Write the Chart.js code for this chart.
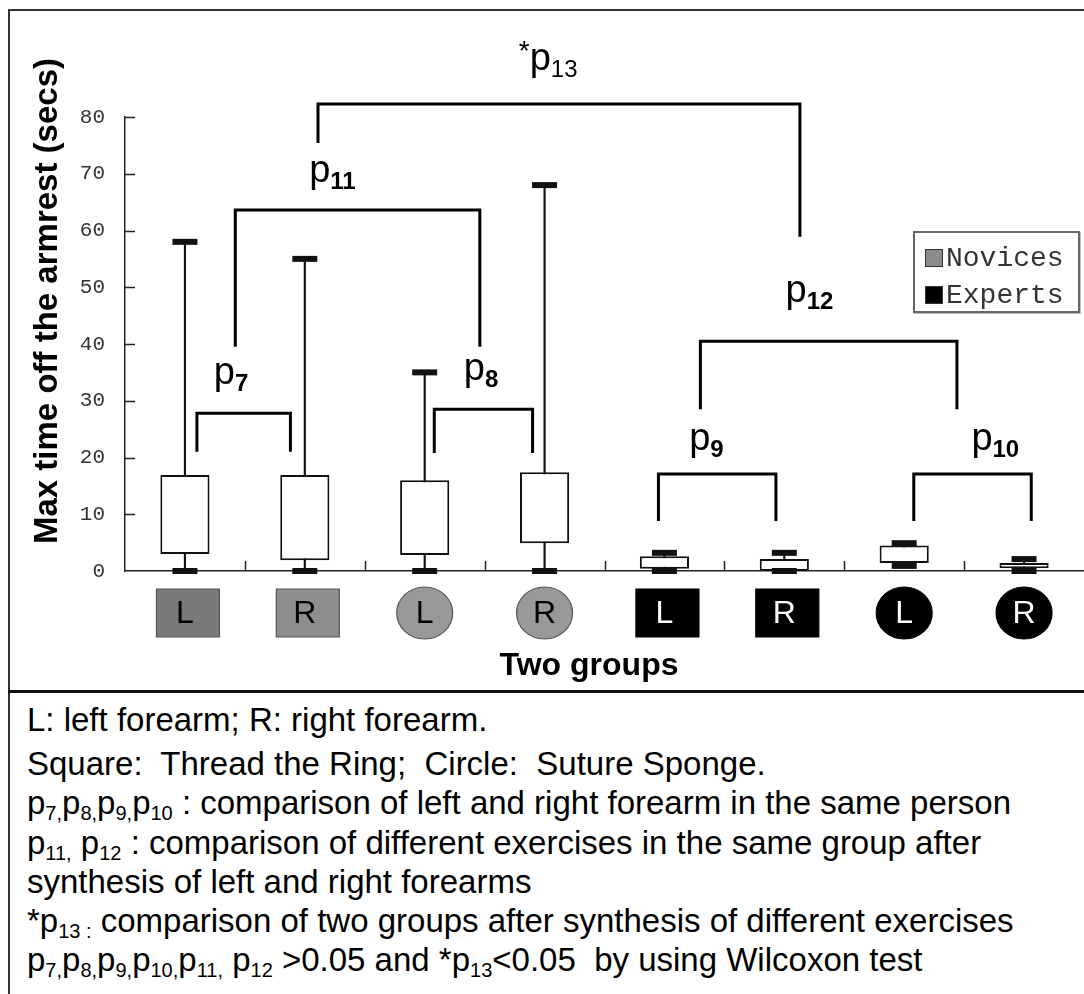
<!DOCTYPE html>
<html>
<head>
<meta charset="utf-8">
<script src="https://cdn.jsdelivr.net/npm/chart.js@4.4.1/dist/chart.umd.min.js"></script>
<style>
  html, body { margin: 0; padding: 0; background: #fff; }
  body { width: 1084px; height: 994px; position: relative; overflow: hidden; font-family: "Liberation Sans", Arial, sans-serif; }
  #frame { position: absolute; left: 8px; top: 9px; width: 1100px; height: 1000px; border-left: 2px solid #333; border-top: 2px solid #333; }
  #sep { position: absolute; left: 8px; top: 690px; width: 1090px; height: 3px; background: #111; }
  #chart { position: absolute; left: 0; top: 0; }
  #legend { position: absolute; left: 913px; top: 231px; width: 163px; height: 78px; border: 2px solid #666; box-shadow: 1px 1px 0 #bbb; background: #fff;
    font-family: "Liberation Mono", "Courier New", monospace; font-size: 28px; color: #333; }
  #legend .item { position: absolute; left: 10px; height: 30px; line-height: 30px; white-space: nowrap; }
  #legend .sw { display: inline-block; width: 16px; height: 16px; border: 1px solid #333; vertical-align: -1px; margin-right: 3px; }
  #caption { position: absolute; left: 27px; top: 700px; font-size: 33px; line-height: 39.2px; color: #000; white-space: nowrap; }
  #caption .first { margin-bottom: 5px; }
  #caption sub { font-size: 20px; line-height: 0; vertical-align: -6px; }
</style>
</head>
<body>
<div id="frame"></div>
<canvas id="chart" width="1084" height="692"></canvas>
<div id="sep"></div>
<div id="legend">
  <div class="item" style="top:11px"><span class="sw" style="background:#8c8c8c"></span>Novices</div>
  <div class="item" style="top:48px"><span class="sw" style="background:#000"></span>Experts</div>
</div>
<div id="caption">
  <div class="first">L: left forearm; R: right forearm.</div>
  <div>Square:&nbsp; Thread the Ring;&nbsp; Circle:&nbsp; Suture Sponge.</div>
  <div>p<sub>7,</sub>p<sub>8,</sub>p<sub>9,</sub>p<sub>10</sub> : comparison of left and right forearm in the same person</div>
  <div>p<sub>11,</sub> p<sub>12</sub> : comparison of different exercises in the same group after</div>
  <div>synthesis of left and right forearms</div>
  <div>*p<sub>13 :</sub> comparison of two groups after synthesis of different exercises</div>
  <div>p<sub>7,</sub>p<sub>8,</sub>p<sub>9,</sub>p<sub>10,</sub>p<sub>11,</sub> p<sub>12</sub> &gt;0.05 and *p<sub>13</sub>&lt;0.05&nbsp; by using Wilcoxon test</div>
</div>
<script>
// Categories: forearm side, group and exercise (square = Thread the Ring, circle = Suture Sponge).
var sides = ['L', 'R', 'L', 'R', 'L', 'R', 'L', 'R'];
var groups = ['Novices', 'Novices', 'Novices', 'Novices', 'Experts', 'Experts', 'Experts', 'Experts'];
var exercises = ['square', 'square', 'circle', 'circle', 'square', 'square', 'circle', 'circle'];

// Box plot values (secs).
var minValues = [0, 0, 0, 0, 0, 0, 0.9, 0];
var q1Values  = [3.0, 1.9, 2.8, 4.9, 0.4, 0, 1.4, 0.5];
var q3Values  = [16.9, 16.9, 16.0, 17.4, 2.6, 2.1, 4.5, 1.4];
var maxValues = [58, 55, 35, 68, 3.2, 3.2, 4.9, 2.1];

// Y axis.
var yMin = 0, yMax = 80, yStep = 10;

// Comparison brackets (category index, value) and their p labels.
var brackets = [
	{ from: 0.10, to: 0.88, top: 27.8, legFrom: 21.0, legTo: 21.0 },
	{ from: 2.08, to: 2.90, top: 28.5, legFrom: 20.8, legTo: 20.8 },
	{ from: 3.95, to: 4.93, top: 17.1, legFrom: 8.8, legTo: 8.8 },
	{ from: 6.08, to: 7.06, top: 17.1, legFrom: 8.8, legTo: 8.8 },
	{ from: 0.42, to: 2.46, top: 63.6, legFrom: 39.5, legTo: 39.5 },
	{ from: 4.30, to: 6.44, top: 40.5, legFrom: 28.5, legTo: 28.5 },
	{ from: 1.11, to: 5.13, top: 82.3, legFrom: 75.4, legTo: 58.9 }
];
var pLabels = [
	{ num: '7', x: 0.385, y: 33.0, star: false },
	{ num: '8', x: 2.47, y: 33.7, star: false },
	{ num: '9', x: 4.35, y: 21.3, star: false },
	{ num: '10', x: 6.76, y: 21.3, star: false },
	{ num: '11', x: 1.23, y: 68.5, star: false },
	{ num: '12', x: 5.21, y: 47.4, star: false },
	{ num: '13', x: 3.03, y: 88.3, star: true }
];

var SANS = '"Liberation Sans", Arial, sans-serif';

function drawP(ctx, xc, yb, lab) {
	ctx.font = '38px ' + SANS;
	var pw = ctx.measureText('p').width;
	ctx.font = (lab.star ? '' : 'bold ') + '24px ' + SANS;
	var nw = ctx.measureText(lab.num).width;
	var sw = 0;
	if (lab.star) {
		ctx.font = '28px ' + SANS;
		sw = ctx.measureText('*').width;
	}
	var x = xc - (sw + pw + nw) / 2;
	ctx.fillStyle = '#000';
	ctx.textBaseline = 'alphabetic';
	ctx.textAlign = 'left';
	if (lab.star) {
		ctx.font = '28px ' + SANS;
		ctx.fillText('*', x, yb - 10);
		x += sw;
	}
	ctx.font = '38px ' + SANS;
	ctx.fillText('p', x, yb);
	x += pw;
	ctx.font = (lab.star ? '' : 'bold ') + '24px ' + SANS;
	ctx.fillText(lab.num, x, yb + 7);
}

var annotate = {
	id: 'annotate',
	beforeDraw: function (chart) {
		// Group / exercise markers under the x axis.
		var ctx = chart.ctx, xs = chart.scales.x, cy = chart.chartArea.bottom + 42;
		ctx.save();
		for (var i = 0; i < sides.length; i++) {
			var cx = xs.getPixelForValue(i) + 3;
			var novice = groups[i] === 'Novices';
			ctx.beginPath();
			if (exercises[i] === 'square') {
				ctx.rect(cx - 31.5, cy - 24, 63, 48);
				ctx.fillStyle = novice ? (sides[i] === 'L' ? '#7a7a7a' : '#8e8e8e') : '#000';
			} else {
				ctx.ellipse(cx - 3, cy, 28, 26, 0, 0, Math.PI * 2);
				ctx.fillStyle = novice ? '#999' : '#000';
			}
			ctx.fill();
			ctx.lineWidth = 1.2;
			ctx.strokeStyle = novice ? '#555' : '#000';
			ctx.stroke();
		}
		ctx.restore();
	},
	afterDraw: function (chart) {
		var ctx = chart.ctx, xs = chart.scales.x, ys = chart.scales.y, area = chart.chartArea;
		ctx.save();
		// Inward tick marks.
		ctx.strokeStyle = '#222';
		ctx.lineWidth = 1.5;
		ctx.beginPath();
		for (var v = yMin + yStep; v <= yMax; v += yStep) {
			var py = Math.round(ys.getPixelForValue(v)) + 0.5;
			ctx.moveTo(area.left, py);
			ctx.lineTo(area.left + 10, py);
		}
		for (var i = 0; i < sides.length - 1; i++) {
			var px = Math.round(xs.getPixelForValue(i + 0.5)) + 0.5;
			ctx.moveTo(px, area.bottom);
			ctx.lineTo(px, area.bottom - 10);
		}
		ctx.stroke();

		// Brackets.
		ctx.strokeStyle = '#000';
		ctx.lineWidth = 3;
		ctx.lineJoin = 'miter';
		brackets.forEach(function (b) {
			var x1 = xs.getPixelForValue(b.from), x2 = xs.getPixelForValue(b.to);
			ctx.beginPath();
			ctx.moveTo(x1, ys.getPixelForValue(b.legFrom));
			ctx.lineTo(x1, ys.getPixelForValue(b.top));
			ctx.lineTo(x2, ys.getPixelForValue(b.top));
			ctx.lineTo(x2, ys.getPixelForValue(b.legTo));
			ctx.stroke();
		});

		// p labels.
		pLabels.forEach(function (lab) {
			drawP(ctx, xs.getPixelForValue(lab.x), ys.getPixelForValue(lab.y), lab);
		});

		// Axis titles.
		ctx.fillStyle = '#000';
		ctx.font = 'bold 32px ' + SANS;
		ctx.textAlign = 'center';
		ctx.textBaseline = 'middle';
		ctx.fillText('Two groups', 589, 666);
		ctx.font = 'bold 33px ' + SANS;
		ctx.translate(48, 301);
		ctx.rotate(-Math.PI / 2);
		ctx.fillText('Max time off the armrest (secs)', 0, 0);
		ctx.restore();
	}
};

new Chart(document.getElementById('chart'), {
	type: 'bar',
	data: {
		labels: sides,
		datasets: [
			{
				label: 'IQR',
				data: q1Values.map(function (q, i) { return [q, q3Values[i]]; }),
				backgroundColor: '#fff',
				borderColor: '#111',
				borderWidth: 2,
				borderSkipped: false,
				barPercentage: 0.41,
				categoryPercentage: 1,
				grouped: false,
				order: 1
			},
			{
				label: 'Range',
				data: minValues.map(function (m, i) { return [m, maxValues[i]]; }),
				backgroundColor: '#111',
				barThickness: 1.5,
				grouped: false,
				order: 2
			},
			{
				type: 'line',
				label: 'Max',
				data: maxValues,
				showLine: false,
				pointStyle: 'line',
				pointRadius: 12.5,
				pointBorderWidth: 6,
				borderColor: '#111',
				clip: false,
				order: 0
			},
			{
				type: 'line',
				label: 'Min',
				data: minValues,
				showLine: false,
				pointStyle: 'line',
				pointRadius: 12.5,
				pointBorderWidth: 6,
				borderColor: '#111',
				clip: false,
				order: 0
			}
		]
	},
	options: {
		responsive: false,
		animation: false,
		events: [],
		layout: { autoPadding: false, padding: { top: 117, left: 0, right: 0, bottom: 0 } },
		plugins: {
			legend: { display: false },
			tooltip: { enabled: false }
		},
		scales: {
			x: {
				offset: true,
				grid: { display: false, drawTicks: false, tickLength: 0 },
				border: { display: true, color: '#222', width: 1.5 },
				ticks: {
					autoSkip: false,
					maxRotation: 0,
					padding: 24,
					font: { family: SANS, size: 32 },
					color: function (c) { return groups[c.index] === 'Experts' ? '#fff' : '#000'; }
				},
				afterFit: function (s) { s.height = 121; }
			},
			y: {
				min: yMin,
				max: yMax,
				grid: { display: false, drawTicks: false, tickLength: 0 },
				border: { display: true, color: '#222', width: 1.5 },
				ticks: {
					stepSize: yStep,
					padding: 20,
					font: { family: '"Liberation Mono", monospace', size: 21 },
					color: '#333'
				},
				afterFit: function (s) { s.width = 125; }
			}
		}
	},
	plugins: [annotate]
});
</script>
</body>
</html>
